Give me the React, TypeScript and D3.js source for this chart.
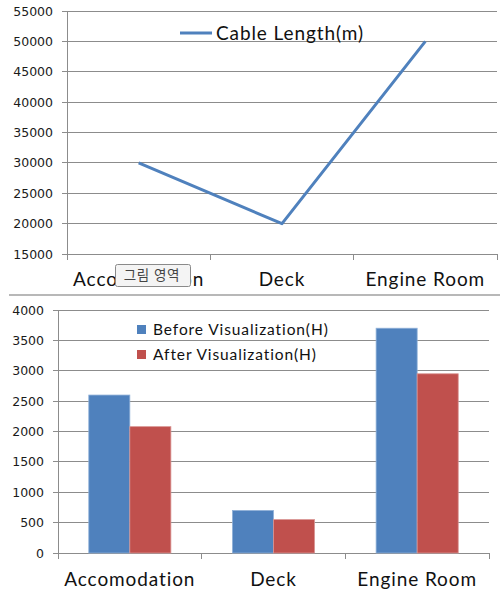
import React from 'react'
import * as d3 from 'd3'

const categories = ['Accomodation', 'Deck', 'Engine Room']
const cableLength = [30000, 20000, 50000]
const lineTicks = [15000, 20000, 25000, 30000, 35000, 40000, 45000, 50000, 55000]

const seriesNames = ['Before Visualization(H)', 'After Visualization(H)']
const beforeHours = [2600, 700, 3700]
const afterHours = [2080, 550, 2950]
const barTicks = [0, 500, 1000, 1500, 2000, 2500, 3000, 3500, 4000]

const BLUE = '#4F81BD'
const RED = '#C0504D'
const GRID = '#8c8c8c'
const TICK_FONT = 'DejaVu Sans, Verdana, sans-serif'
const LABEL_FONT = 'Lato, Calibri, sans-serif'

const App = () => {
  // top chart: line
  const xTop = d3.scaleBand().domain(categories).range([67, 497])
  const yTop = d3.scaleLinear().domain([15000, 55000]).range([254, 11])
  const line = d3
    .line<number>()
    .x((d, i) => (xTop(categories[i]) ?? 0) + xTop.bandwidth() / 2)
    .y((d) => yTop(d))

  // bottom chart: grouped bars
  const xBot = d3.scaleBand().domain(categories).range([58, 489])
  const xInner = d3.scaleBand().domain(seriesNames).range([0, xBot.bandwidth()]).paddingOuter(0.75)
  const yBot = d3.scaleLinear().domain([0, 4000]).range([553, 310])
  const barData = [beforeHours, afterHours]
  const colors = [BLUE, RED]

  const [x0, x1] = xTop.range()
  const [b0, b1] = xBot.range()

  return (
    <svg width={500} height={590} style={{ position: 'absolute', left: 0, top: 0, background: '#fff' }}>
      {/* top chart */}
      <g>
        {lineTicks.map((t) => (
          <g key={t}>
            <line x1={x0 - 5} x2={x1} y1={yTop(t)} y2={yTop(t)} stroke={GRID} strokeWidth={1} shapeRendering="crispEdges" />
            <text x={x0 - 14} y={yTop(t)} dy="0.36em" textAnchor="end" fontFamily={TICK_FONT} fontSize={12.5} fill="#1a1a1a">
              {t}
            </text>
          </g>
        ))}
        <line x1={x0} x2={x0} y1={yTop(55000)} y2={yTop(15000) + 6} stroke={GRID} shapeRendering="crispEdges" />
        {categories.map((c) => (
          <line key={c} x1={(xTop(c) ?? 0) + xTop.bandwidth()} x2={(xTop(c) ?? 0) + xTop.bandwidth()} y1={yTop(15000)} y2={yTop(15000) + 6} stroke={GRID} shapeRendering="crispEdges" />
        ))}
        {categories.map((c) => (
          <text key={c} x={(xTop(c) ?? 0) + xTop.bandwidth() / 2} y={286} textAnchor="middle" fontFamily={LABEL_FONT} fontSize={19} letterSpacing={0.9} fill="#111">
            {c}
          </text>
        ))}
        <path d={line(cableLength) ?? ''} fill="none" stroke={BLUE} strokeWidth={3} strokeLinejoin="round" />
        <line x1={180} x2={212} y1={33} y2={33} stroke={BLUE} strokeWidth={3} />
        <text x={216} y={39.5} fontFamily={LABEL_FONT} fontSize={19} letterSpacing={0.9} fill="#111">
          Cable Length(m)
        </text>
        {/* tooltip over the first category label, as in the source screenshot */}
        <rect x={115.5} y={264.5} width={75} height={22} rx={2} fill="#f4f4f4" stroke="#8a8a8a" />
        <text x={152} y={275.5} dy="0.35em" textAnchor="middle" fontFamily="Noto Sans CJK KR, sans-serif" fontSize={13.5} fill="#444" letterSpacing={0.8}>
          그림 영역
        </text>
      </g>

      {/* separator */}
      <line x1={9} x2={500} y1={295} y2={295} stroke="#a0a0a0" strokeWidth={1.5} />

      {/* bottom chart */}
      <g>
        {barTicks.map((t) => (
          <g key={t}>
            <line x1={b0 - 5} x2={b1} y1={yBot(t)} y2={yBot(t)} stroke={GRID} strokeWidth={1} shapeRendering="crispEdges" />
            <text x={b0 - 14} y={yBot(t)} dy="0.36em" textAnchor="end" fontFamily={TICK_FONT} fontSize={12.5} fill="#1a1a1a">
              {t}
            </text>
          </g>
        ))}
        <line x1={b0} x2={b0} y1={yBot(4000)} y2={yBot(0) + 6} stroke={GRID} shapeRendering="crispEdges" />
        {categories.map((c) => (
          <line key={c} x1={(xBot(c) ?? 0) + xBot.bandwidth()} x2={(xBot(c) ?? 0) + xBot.bandwidth()} y1={yBot(0)} y2={yBot(0) + 6} stroke={GRID} shapeRendering="crispEdges" />
        ))}
        {categories.map((c, ci) =>
          seriesNames.map((s, si) => {
            const v = barData[si][ci]
            return (
              <rect
                key={c + s}
                x={(xBot(c) ?? 0) + (xInner(s) ?? 0)}
                y={yBot(v)}
                width={xInner.bandwidth()}
                height={yBot(0) - yBot(v)}
                fill={colors[si]}
                stroke={si === 0 ? '#8fb0d8' : '#d99593'}
                strokeWidth={0.8}
              />
            )
          })
        )}
        {categories.map((c) => (
          <text key={c} x={(xBot(c) ?? 0) + xBot.bandwidth() / 2} y={586} textAnchor="middle" fontFamily={LABEL_FONT} fontSize={19} letterSpacing={0.9} fill="#111">
            {c}
          </text>
        ))}
        {seriesNames.map((s, i) => (
          <g key={s} transform={`translate(137, ${325 + i * 25})`}>
            <rect x={0} y={0} width={9} height={9} fill={colors[i]} />
            <text x={16} y={4.5} dy="0.36em" fontFamily={LABEL_FONT} fontSize={15.5} letterSpacing={0.9} fill="#111">
              {s}
            </text>
          </g>
        ))}
      </g>
    </svg>
  )
}

export default App
